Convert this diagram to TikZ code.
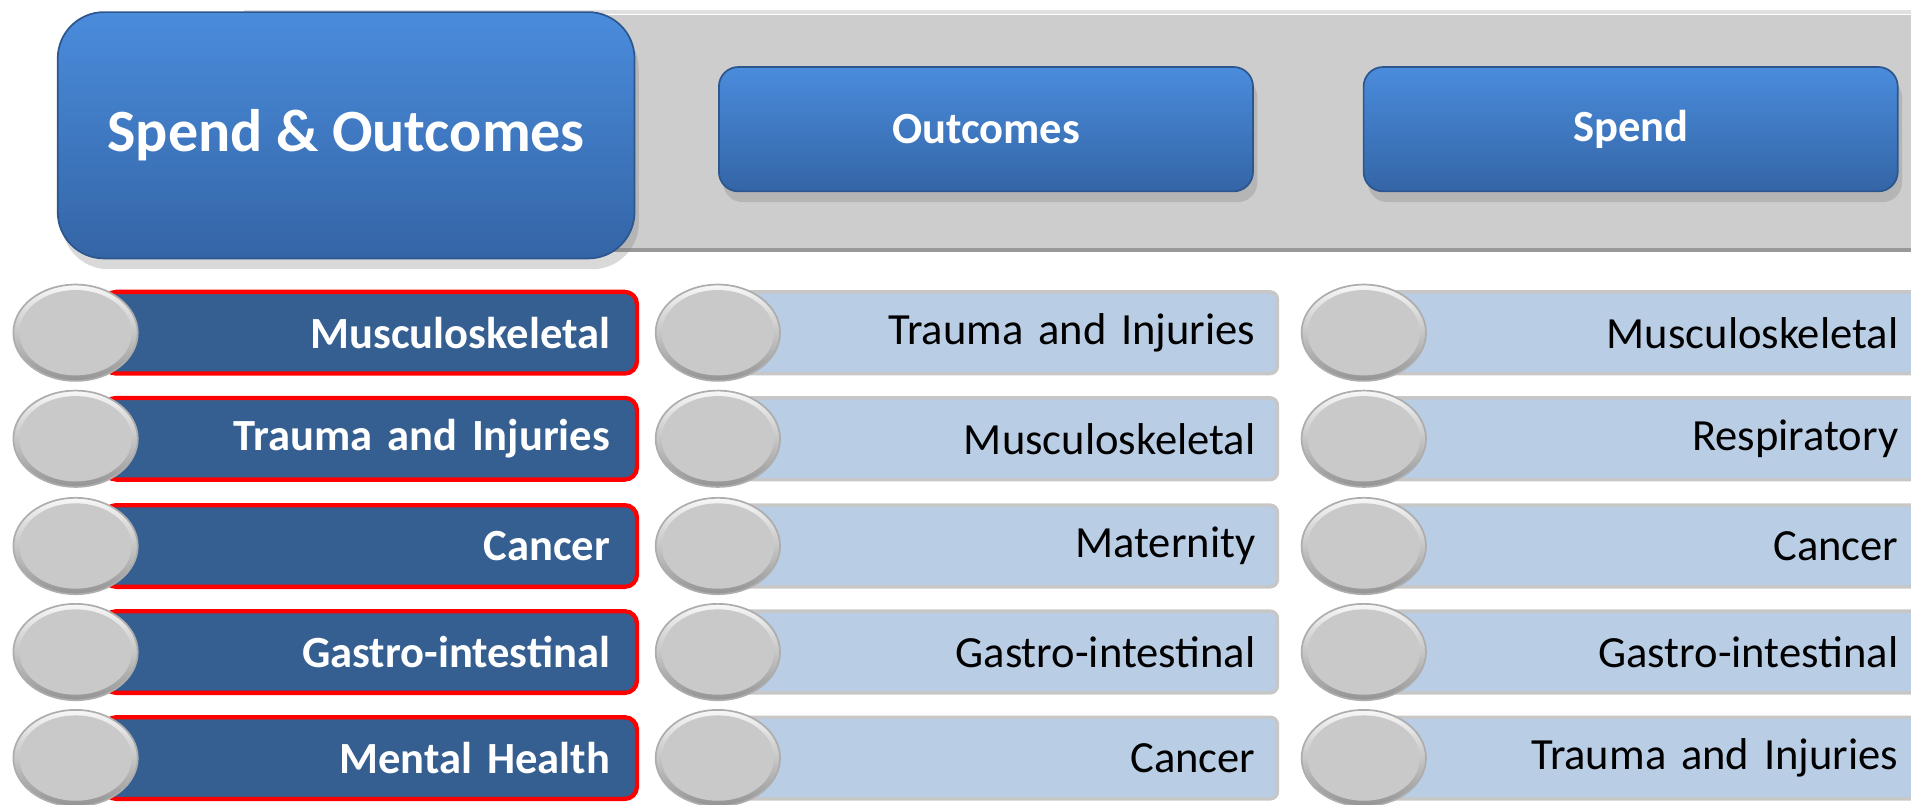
\documentclass[tikz,border=0pt]{standalone}
\usepackage{fontspec}
\setmainfont{Carlito}
\usetikzlibrary{shapes.geometric,shadows}

\definecolor{capblue}{HTML}{4A8CDC}
\definecolor{capbluedark}{HTML}{3465A6}
\definecolor{keyblue}{HTML}{365F91}
\definecolor{listblue}{HTML}{B9CDE5}
\definecolor{bandgray}{HTML}{CDCDCD}
\newcommand{\rowfont}{\fontsize{10.4}{12}\selectfont}

\begin{document}
\begin{tikzpicture}[x=0.01cm,y=-0.01cm,
	capbox/.style={draw=capbluedark!85!black,top color=capblue,bottom color=capbluedark,text=white,drop shadow={opacity=0.3,shadow xshift=1pt,shadow yshift=-2.5pt}},
	title/.style={capbox,rounded corners=0.38cm,minimum width=4.73cm,minimum height=2.02cm,font=\bfseries\fontsize{14}{16}\selectfont},
	headbtn/.style={capbox,rounded corners=0.16cm,minimum width=4.38cm,minimum height=1.02cm,font=\bfseries\rowfont},
	keybar/.style={draw=red,line width=1pt,fill=keyblue,rounded corners=0.1cm,minimum height=0.67cm,text width=3.93cm,inner xsep=0.22cm,align=right,text=white,font=\bfseries\rowfont},
	listbar/.style={draw=black!22,line width=0.8pt,fill=listblue,rounded corners=0.06cm,minimum height=0.67cm,inner xsep=0.18cm,align=right,font=\rowfont},
	knob/.style={ellipse,draw=black!32,top color=black!3,bottom color=black!42,minimum width=1.02cm,minimum height=0.79cm,inner sep=0,
		path picture={\fill[black!21] (path picture bounding box.center) ellipse [x radius=0.46cm,y radius=0.35cm];}}]
	\useasboundingbox (0,0) rectangle (1568,660);
	\clip (0,0) rectangle (1568,660);
	% band behind the headers
	\fill[bandgray] (200,12) rectangle (1600,205);
	\draw[black!12,line width=1pt] (200,10) -- (1600,10);
	\draw[black!40,line width=1pt] (200,205) -- (1600,205);
	\node[title] (spendout) at (284,111) {Spend \& Outcomes};
	\node[headbtn] (outhead) at (809,106) {Outcomes};
	\node[headbtn] (spendhead) at (1338,106) {Spend};
	% first column
	\node[keybar] (k1) at (304,273) {Musculoskeletal};
	\node[keybar] (k2) at (304,360) {Trauma and Injuries};
	\node[keybar] (k3) at (304,448) {Cancer};
	\node[keybar] (k4) at (304,535) {Gastro-intestinal};
	\node[keybar] (k5) at (304,622) {Mental Health};
	\node[knob] (kc1) at (62,273) {};
	\node[knob] (kc2) at (62,360) {};
	\node[knob] (kc3) at (62,448) {};
	\node[knob] (kc4) at (62,535) {};
	\node[knob] (kc5) at (62,622) {};
	% outcomes
	\node[listbar,text width=4.22cm] (o1) at (819,273) {Trauma and Injuries};
	\node[listbar,text width=4.22cm] (o2) at (819,360) {Musculoskeletal};
	\node[listbar,text width=4.22cm] (o3) at (819,448) {Maternity};
	\node[listbar,text width=4.22cm] (o4) at (819,535) {Gastro-intestinal};
	\node[listbar,text width=4.22cm] (o5) at (819,622) {Cancer};
	\node[knob] (oc1) at (589,273) {};
	\node[knob] (oc2) at (589,360) {};
	\node[knob] (oc3) at (589,448) {};
	\node[knob] (oc4) at (589,535) {};
	\node[knob] (oc5) at (589,622) {};
	% spend
	\node[listbar,text width=4.19cm] (s1) at (1348,273) {Musculoskeletal};
	\node[listbar,text width=4.19cm] (s2) at (1348,360) {Respiratory};
	\node[listbar,text width=4.19cm] (s3) at (1348,448) {Cancer};
	\node[listbar,text width=4.19cm] (s4) at (1348,535) {Gastro-intestinal};
	\node[listbar,text width=4.19cm] (s5) at (1348,622) {Trauma and Injuries};
	\node[knob] (sc1) at (1119,273) {};
	\node[knob] (sc2) at (1119,360) {};
	\node[knob] (sc3) at (1119,448) {};
	\node[knob] (sc4) at (1119,535) {};
	\node[knob] (sc5) at (1119,622) {};
\end{tikzpicture}
\end{document}
